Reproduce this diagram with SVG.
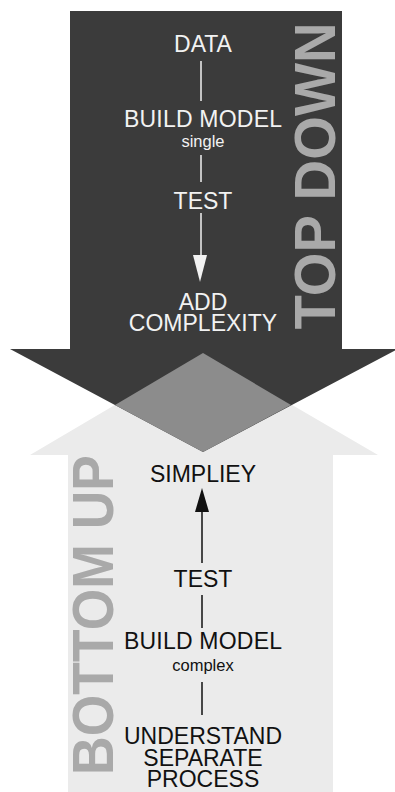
<svg xmlns="http://www.w3.org/2000/svg" width="395" height="792" viewBox="0 0 395 792">
<style>
.lbl{font-family:"Liberation Sans",Arial,sans-serif;font-size:23px;text-anchor:middle}
.sub{font-family:"Liberation Sans",Arial,sans-serif;font-size:16.5px;text-anchor:middle}
.w{fill:#f2f2f2}
.b{fill:#111}
.big{font-family:"Liberation Sans",Arial,sans-serif;font-weight:bold;font-size:57px;fill:#a9a9a9;text-anchor:middle}
.lw{stroke:#f2f2f2;stroke-width:1.5;fill:none}
.lb{stroke:#111;stroke-width:1.5;fill:none}
</style>
<rect width="395" height="792" fill="#ffffff"/>
<g id="bottom-up-arrow">
<polygon points="68,455 30,455 203,353 378,455 333,455 333,792 68,792" fill="#ebebeb"/>
<text class="big" transform="translate(113,615) rotate(-90)" textLength="320" lengthAdjust="spacingAndGlyphs">BOTTOM UP</text>
</g>
<g id="top-down-arrow">
<polygon points="70,11 342,11 342,349 398,349 203,452 10,349 70,349" fill="#3b3b3b"/>
<text class="big" transform="translate(335,176) rotate(-90)" textLength="307" lengthAdjust="spacingAndGlyphs">TOP DOWN</text>
</g>
<g id="overlap">
<polygon points="203,353 291,405 203,452 115,405" fill="#8c8c8c"/>
</g>
<g id="connectors">
<line class="lw" x1="201" y1="61" x2="201" y2="101"/>
<line class="lw" x1="201" y1="155" x2="201" y2="182"/>
<line class="lw" x1="201" y1="213" x2="201" y2="258"/>
<polygon points="193,255 207,255 200,282" fill="#f2f2f2"/>
<line class="lb" x1="202" y1="563" x2="202" y2="508"/>
<polygon points="195,512 209,512 202,488" fill="#111"/>
<line class="lb" x1="202" y1="595" x2="202" y2="628"/>
<line class="lb" x1="202" y1="682" x2="202" y2="715"/>
</g>
<g id="data"><text class="lbl w" x="203" y="52">DATA</text></g>
<g id="build-single"><text class="lbl w" x="203" y="127" textLength="158" lengthAdjust="spacing">BUILD MODEL</text><text class="sub w" x="203" y="147">single</text></g>
<g id="test-top"><text class="lbl w" x="203" y="209">TEST</text></g>
<g id="add-complexity"><text class="lbl w" x="203" y="310">ADD</text><text class="lbl w" x="203" y="331">COMPLEXITY</text></g>
<g id="simplify"><text class="lbl b" x="203" y="482">SIMPLIEY</text></g>
<g id="test-bottom"><text class="lbl b" x="203" y="587">TEST</text></g>
<g id="build-complex"><text class="lbl b" x="203" y="649" textLength="158" lengthAdjust="spacing">BUILD MODEL</text><text class="sub b" x="203" y="671">complex</text></g>
<g id="understand"><text class="lbl b" x="203" y="744">UNDERSTAND</text><text class="lbl b" x="203" y="766">SEPARATE</text><text class="lbl b" x="203" y="787">PROCESS</text></g>
</svg>
